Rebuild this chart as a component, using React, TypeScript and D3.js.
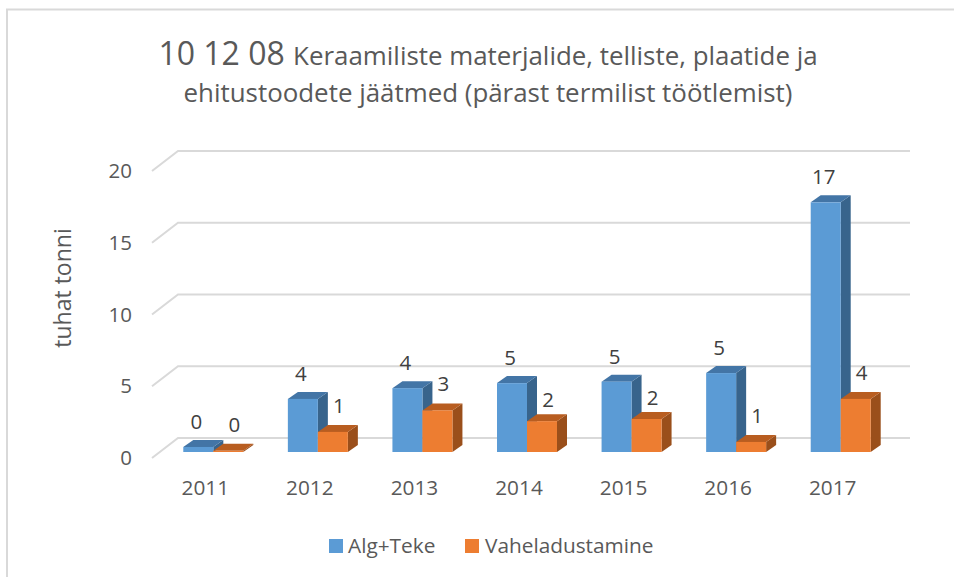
import React from 'react';
import * as d3 from 'd3';

const years = ['2011', '2012', '2013', '2014', '2015', '2016', '2017'];
const algTeke = [0.35, 3.7, 4.45, 4.8, 4.9, 5.5, 17.4];
const vahel = [0.08, 1.4, 2.9, 2.15, 2.3, 0.7, 3.7];
const algLabels = ['0', '4', '4', '5', '5', '5', '17'];
const vahelLabels = ['0', '1', '3', '2', '2', '1', '4'];
const yTicks = [0, 5, 10, 15, 20];

const font = '"Open Sans", sans-serif';
const textColor = '#595959';
const depthX = 26;
const depthY = 20;
const barDx = 10;
const barDy = 7;
const base = 452;

const x = d3.scaleBand<string>().domain(years).range([153, 885]);
const y = d3.scaleLinear().domain([0, 20]).range([base, base - 287]);

// the 2014 and 2015 orange labels sit closer to their bars
const vahelLift = (yr: string) => (yr === '2014' || yr === '2015' ? 14 : 19);

function Bar3D({bx, w, top, front, side, roof}: {bx: number; w: number; top: number; front: string; side: string; roof: string}) {
    const path = d3.path();
    path.moveTo(bx + w, base);
    path.lineTo(bx + w + barDx, base - barDy);
    path.lineTo(bx + w + barDx, top - barDy);
    path.lineTo(bx + w, top);
    path.closePath();
    const cap = d3.path();
    cap.moveTo(bx, top);
    cap.lineTo(bx + barDx, top - barDy);
    cap.lineTo(bx + w + barDx, top - barDy);
    cap.lineTo(bx + w, top);
    cap.closePath();
    return (
        <g>
            <path d={path.toString()} fill={side} />
            <path d={cap.toString()} fill={roof} />
            <rect x={bx} y={top} width={w} height={base - top} fill={front} />
        </g>
    );
}

export default function App() {
    const barW = 30;
    return (
        <svg width={954} height={577} style={{position: 'absolute', left: 0, top: 0, background: '#fff'}}>
            <path d="M7 577V9.5H954" fill="none" stroke="#d9d9d9" strokeWidth={2} />

            <text textAnchor="middle" fontFamily={font} fill={textColor}>
                <tspan x={488} y={65} fontSize={32}>10 12 08 </tspan>
                <tspan fontSize={25.9}>Keraamiliste materjalide, telliste, plaatide ja</tspan>
                <tspan x={488} y={102} fontSize={25.9}>ehitustoodete jäätmed (pärast termilist töötlemist)</tspan>
            </text>

            {yTicks.map(t => (
                <g key={t}>
                    <path
                        d={`M${x.range()[0] - 1} ${y(t) + 6}L${x.range()[0] + depthX - 1} ${y(t) - depthY + 6 }H910`}
                        fill="none" stroke="#d9d9d9" strokeWidth={2} />
                    <text x={132} y={y(t) + 13} textAnchor="end" fontFamily={font} fontSize={20.5} fill={textColor}>{t}</text>
                </g>
            ))}

            <text transform="translate(71,288) rotate(-90)" textAnchor="middle" fontFamily={font} fontSize={23} fill={textColor}>tuhat tonni</text>

            {years.map((yr, i) => {
                const c = x(yr)! + x.bandwidth() / 2 + 8;
                return (
                    <g key={yr}>
                        <Bar3D bx={c - barW} w={barW} top={y(algTeke[i])} front="#5b9bd5" side="#38648c" roof="#4375a6" />
                        <Bar3D bx={c} w={barW} top={y(vahel[i])} front="#ed7d31" side="#9a4f1b" roof="#b85d20" />
                        <text x={c - barW + 13} y={y(algTeke[i]) - 18} textAnchor="middle" fontFamily={font} fontSize={20.5} fill="#404040">{algLabels[i]}</text>
                        <text x={c + 21} y={y(vahel[i]) - vahelLift(yr)} textAnchor="middle" fontFamily={font} fontSize={20.5} fill="#404040">{vahelLabels[i]}</text>
                        <text x={x(yr)! + x.bandwidth() / 2} y={495} textAnchor="middle" fontFamily={font} fontSize={20.8} fill={textColor}>{yr}</text>
                    </g>
                );
            })}

            <rect x={329} y={539} width={14} height={14} fill="#5b9bd5" />
            <text x={348} y={553} fontFamily={font} fontSize={20.8} fill={textColor}>Alg+Teke</text>
            <rect x={465} y={539} width={14} height={14} fill="#ed7d31" />
            <text x={485} y={553} fontFamily={font} fontSize={20.8} fill={textColor}>Vaheladustamine</text>
        </svg>
    );
}
